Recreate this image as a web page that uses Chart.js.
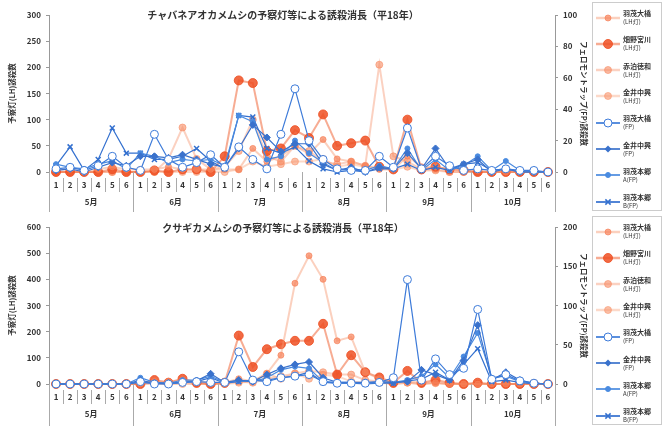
<!DOCTYPE html>
<html>
<head>
<meta charset="utf-8">
<script src="https://cdn.jsdelivr.net/npm/chart.js@4"></script>
<style>
  body { margin: 0; background: #fff; font-family: "Noto Sans CJK JP", sans-serif; }
  .panel { position: relative; width: 664px; height: 214px; }
  .panel canvas { position: absolute; left: 0; top: 0; }
  .ttl { position: absolute; left: 0; width: 566px; text-align: center; font-size: 10px; font-weight: bold; color: #333; }
  .legend { position: absolute; left: 592px; top: 2px; width: 70px; height: 209px; border: 1px solid #ccc; box-sizing: border-box; }
  .item { position: absolute; left: 3px; display: flex; align-items: center; }
  .item .t { font-size: 7px; line-height: 8px; color: #333; margin-left: 3px; font-weight: bold; }
  .item .t span { font-weight: normal; font-size: 6px; }
</style>
</head>
<body>
<div class="panel" id="p1">
  <canvas id="chaba" width="590" height="214"></canvas>
  <div class="ttl" style="top:7px">チャバネアオカメムシの予察灯等による誘殺消長（平18年）</div>
  <div class="legend" id="leg1"></div>
</div>
<div class="panel" id="p2">
  <canvas id="kusagi" width="590" height="214"></canvas>
  <div class="ttl" style="top:6px">クサギカメムシの予察灯等による誘殺消長（平18年）</div>
  <div class="legend" id="leg2"></div>
</div>
<script>
// 半旬 (1-6) x 月 (5月-10月)
const periods = ['1', '2', '3', '4', '5', '6'];
const months = ['5月', '6月', '7月', '8月', '9月', '10月'];

const seriesNames = ['羽茂大橋', '畑野宮川', '赤泊徳和', '金井中興', '羽茂大橋', '金井中興', '羽茂本郷', '羽茂本郷'];
const seriesSub = ['(LH灯)', '(LH灯)', '(LH灯)', '(LH灯)', '(FP)', '(FP)', 'A(FP)', 'B(FP)'];

// チャバネアオカメムシ: 予察灯 (left axis)
const chabaLh1 = [5,5,0,5,10,5, 5,5,10,5,5,5, 5,5,45,20,30,50, 35,62,25,20,12,5, 5,30,10,10,5,5, 3,0,0,0,0,0];
const chabaLh2 = [0,0,0,0,5,0, 0,3,0,5,5,0, 30,175,170,40,45,80, 65,110,50,55,60,10, 5,100,5,10,5,3, 0,0,0,0,0,0];
const chabaLh3 = [0,0,0,0,0,0, 0,0,25,85,25,5, 10,40,100,30,20,50, 40,20,15,20,12,205, 30,20,5,5,0,0, 0,0,0,0,0,0];
const chabaLh4 = [0,0,0,0,0,0, 0,0,0,0,0,0, 0,5,20,10,15,20, 20,25,10,15,10,10, 5,10,3,3,0,0, 0,0,0,0,0,0];
// チャバネアオカメムシ: フェロモントラップ (right axis)
const chabaFp1 = [2,3,1,4,10,3, 1,24,8,3,6,11, 3,16,8,2,24,53, 20,8,2,1,1,10, 3,28,2,10,4,1, 2,1,2,1,1,0];
const chabaFp2 = [1,2,0,3,6,4, 10,10,9,11,8,5, 3,15,30,22,13,18, 18,5,1,3,0,3, 2,12,2,15,2,5, 8,0,2,0,0,0];
const chabaFp3 = [5,3,2,5,7,2, 12,10,6,8,7,8, 4,36,32,8,10,20, 12,6,1,2,1,4, 2,15,1,8,1,4, 10,1,7,1,0,0];
const chabaFp4 = [4,16,1,8,28,12, 12,8,8,10,15,7, 2,36,35,15,12,16, 7,2,0,1,0,2, 2,5,1,3,1,5, 6,1,2,0,0,0];

// クサギカメムシ: 予察灯 (left axis)
const kusaLh1 = [0,0,0,0,0,0, 0,10,10,15,10,5, 5,20,10,40,110,385, 490,400,165,180,45,20, 5,10,5,5,0,0, 0,0,0,0,0,0];
const kusaLh2 = [0,0,0,0,0,0, 0,15,5,20,5,0, 5,185,65,133,152,165, 165,230,36,110,45,25, 5,50,5,15,5,0, 5,0,0,0,0,0];
const kusaLh3 = [0,0,0,0,0,0, 0,5,0,5,0,0, 0,10,5,20,30,40, 50,45,36,36,15,10, 0,5,0,5,0,0, 0,0,0,0,0,0];
const kusaLh4 = [0,0,0,0,0,0, 0,0,0,0,0,0, 0,5,10,40,20,40, 20,35,30,10,5,5, 0,5,0,3,0,0, 0,0,0,0,0,0];
// クサギカメムシ: フェロモントラップ (right axis)
const kusaFp1 = [0,0,0,0,0,0, 3,0,0,2,3,2, 2,41,5,3,8,10, 12,3,1,1,1,2, 8,133,5,32,12,20, 95,6,12,4,1,0];
const kusaFp2 = [0,0,0,0,0,0, 5,1,1,2,4,13, 2,5,3,12,20,25, 28,8,2,2,2,3, 2,3,18,12,5,30, 75,5,15,5,1,0];
const kusaFp3 = [0,0,0,0,0,0, 8,2,1,5,5,10, 2,4,3,8,18,22, 20,3,2,2,1,2, 2,5,10,25,8,35, 65,8,10,3,1,0];
const kusaFp4 = [0,0,0,0,0,0, 2,1,0,2,3,8, 1,3,5,5,8,10, 15,2,1,1,0,1, 1,4,6,15,5,25, 45,3,5,2,0,0];

const xLabels = months.flatMap(() => periods);

Chart.defaults.font.family = '"Noto Sans CJK JP", "Noto Sans", sans-serif';
Chart.defaults.color = '#333';

const styles = [
  { line: 'rgba(247,150,110,0.45)', fill: 'rgba(246,130,90,0.7)', border: 'rgba(246,130,90,0.7)', style: 'circle', r: 3, w: 2 },
  { line: 'rgba(240,90,40,0.5)', fill: 'rgba(238,80,35,0.85)', border: 'rgba(238,80,35,0.85)', style: 'circle', r: 4.5, w: 2 },
  { line: 'rgba(246,140,100,0.4)', fill: 'rgba(246,140,100,0.6)', border: 'rgba(246,140,100,0.6)', style: 'circle', r: 3.5, w: 2 },
  { line: 'rgba(248,160,120,0.4)', fill: 'rgba(248,150,110,0.6)', border: 'rgba(248,150,110,0.6)', style: 'circle', r: 3.5, w: 2 },
  { line: '#3d7bd9', fill: '#ffffff', border: '#3d7bd9', style: 'circle', r: 4, w: 1.2 },
  { line: '#3a72cc', fill: '#3a72cc', border: '#3a72cc', style: 'rectRot', r: 3.5, w: 1.2 },
  { line: '#4a8be0', fill: '#4a8be0', border: '#4a8be0', style: 'circle', r: 2.5, w: 1.2 },
  { line: '#3370cf', fill: '#3370cf', border: '#3370cf', style: 'crossRot', r: 3.5, w: 1.2 }
];

const separators = {
  id: 'separators',
  afterDraw(chart) {
    const x = chart.scales.x, area = chart.chartArea, ctx = chart.ctx;
    const step = x.getPixelForValue(1) - x.getPixelForValue(0);
    ctx.save();
    ctx.strokeStyle = '#aaa';
    ctx.lineWidth = 1;
    for (let i = 0; i <= xLabels.length; i++) {
      const px = Math.round(x.getPixelForValue(i) - step / 2) + 0.5;
      const major = i % periods.length === 0;
      ctx.beginPath();
      ctx.moveTo(px, area.bottom + (major ? 0 : 6));
      ctx.lineTo(px, major ? chart.height - 2 : area.bottom + 20);
      ctx.stroke();
    }
    ctx.restore();
  }
};

function makeDatasets(lh, fp) {
  return lh.concat(fp).map((data, i) => {
    const s = styles[i];
    return {
      label: seriesNames[i] + seriesSub[i],
      data,
      yAxisID: i < 4 ? 'y' : 'y2',
      borderColor: s.line,
      backgroundColor: s.fill,
      pointBackgroundColor: s.fill,
      pointBorderColor: s.border,
      pointBorderWidth: i === 7 ? 1.5 : 1,
      pointStyle: s.style,
      pointRadius: s.r,
      borderWidth: s.w,
      tension: 0,
      clip: false,
      order: i < 4 ? 2 : 1
    };
  });
}

function makeChart(id, lh, fp, leftMax, leftStep, rightMax, rightStep, padTop, padBottom) {
  const tickFont = { size: 8, weight: 'bold' };
  new Chart(document.getElementById(id), {
    type: 'line',
    data: { labels: xLabels, datasets: makeDatasets(lh, fp) },
    options: {
      responsive: false,
      animation: false,
      layout: { padding: { top: padTop, bottom: padBottom, left: 0, right: 0 } },
      plugins: { legend: { display: false }, tooltip: { enabled: false } },
      scales: {
        x: {
          type: 'category', offset: true,
          grid: { display: false, drawTicks: false }, border: { display: false },
          ticks: { autoSkip: false, maxRotation: 0, font: tickFont, padding: 8 },
          afterFit: s => { s.height = 20; }
        },
        xm: {
          type: 'category', labels: months, offset: true, position: 'bottom',
          grid: { display: false, drawTicks: false }, border: { display: false },
          ticks: { maxRotation: 0, font: tickFont, padding: 5 },
          afterFit: s => { s.height = 22; }
        },
        y: {
          position: 'left', min: 0, max: leftMax,
          ticks: { stepSize: leftStep, font: tickFont, padding: 5 },
          grid: { drawOnChartArea: false, tickLength: 3, color: '#999' },
          border: { color: '#999' },
          title: { display: true, text: '予察灯(LH)誘殺数', font: { size: 7.5, weight: 'bold' }, padding: { top: 8, bottom: 2 } },
          afterFit: s => { s.width = 49; }
        },
        y2: {
          position: 'right', min: 0, max: rightMax,
          ticks: { stepSize: rightStep, font: tickFont, padding: 5 },
          grid: { drawOnChartArea: false, tickLength: 3, color: '#999' },
          border: { color: '#999' },
          title: { display: true, text: 'フェロモントラップ(FP)誘殺数', font: { size: 7.5, weight: 'bold' }, padding: { top: 2, bottom: 2 } },
          afterFit: s => { s.width = 35; }
        }
      }
    },
    plugins: [separators]
  });
}

function markerSvg(s) {
  const c = 12, m = 5;
  let mark = '';
  if (s.style === 'circle') {
    mark = `<circle cx="${c}" cy="${m}" r="${s.r}" fill="${s.fill}" stroke="${s.border}" stroke-width="1"/>`;
  } else if (s.style === 'rectRot') {
    const r = s.r;
    mark = `<polygon points="${c},${m - r} ${c + r},${m} ${c},${m + r} ${c - r},${m}" fill="${s.fill}"/>`;
  } else {
    const r = s.r * 0.75;
    mark = `<path d="M${c - r} ${m - r}L${c + r} ${m + r}M${c + r} ${m - r}L${c - r} ${m + r}" stroke="${s.border}" stroke-width="1.5"/>`;
  }
  return `<svg width="24" height="10"><line x1="0" y1="${m}" x2="24" y2="${m}" stroke="${s.line}" stroke-width="${s.w + 0.5}"/>${mark}</svg>`;
}

function makeLegend(id) {
  const box = document.getElementById(id);
  seriesNames.forEach((name, i) => {
    const el = document.createElement('div');
    el.className = 'item';
    el.style.top = (6 + i * 26.3) + 'px';
    el.innerHTML = markerSvg(styles[i]) + `<div class="t">${name}<br><span>${seriesSub[i]}</span></div>`;
    box.appendChild(el);
  });
}

makeChart('chaba', [chabaLh1, chabaLh2, chabaLh3, chabaLh4], [chabaFp1, chabaFp2, chabaFp3, chabaFp4], 300, 50, 100, 20, 15, 0);
makeChart('kusagi', [kusaLh1, kusaLh2, kusaLh3, kusaLh4], [kusaFp1, kusaFp2, kusaFp3, kusaFp4], 600, 100, 200, 50, 13, 2);
makeLegend('leg1');
makeLegend('leg2');
</script>
</body>
</html>
